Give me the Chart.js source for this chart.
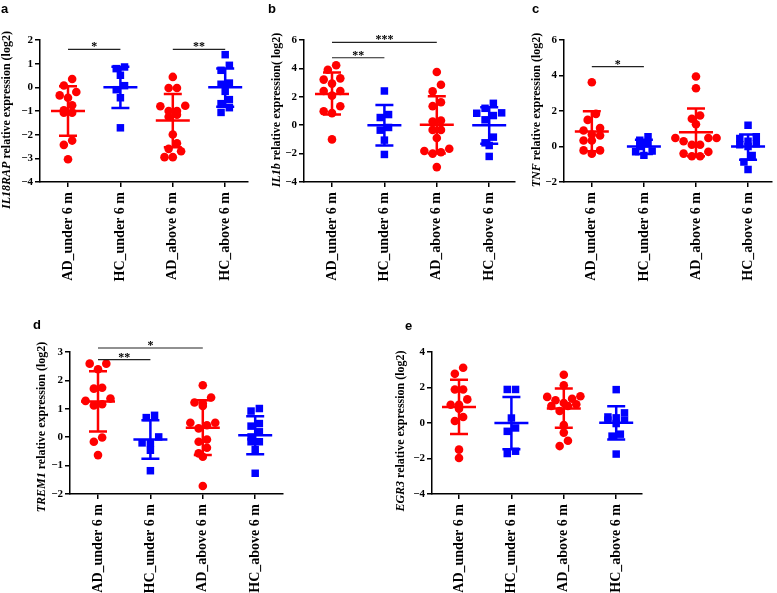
<!DOCTYPE html>
<html>
<head>
<meta charset="utf-8">
<script src="https://cdn.jsdelivr.net/npm/chart.js@4.4.1/dist/chart.umd.min.js"></script>
<style>
  html, body { margin: 0; padding: 0; background: #fff; }
  body { width: 777px; height: 593px; position: relative; overflow: hidden; }
</style>
</head>
<body>
<script>
// groups on the x axis, same order in every panel
const categories = ['AD_under 6 m', 'HC_under 6 m', 'AD_above 6 m', 'HC_above 6 m'];

// a - IL18RAP
const il18rapValues = [
  [0.35, 0.08, -0.2, -0.34, -0.44, -0.76, -0.97, -1.07, -1.07, -2.25, -2.43, -3.04],
  [0.86, 0.79, 0.51, 0.07, -0.1, -0.44, -1.71],
  [0.44, -0.03, -0.03, -0.78, -0.8, -1.0, -1.0, -1.16, -1.24, -1.99, -2.36, -2.6, -2.7, -2.95, -2.95],
  [1.38, 0.93, 0.72, 0.18, 0.13, -0.17, -0.52, -0.69, -0.86, -1.06]
];
const il18rapMean = [-1.0, 0.0, -1.4, 0.0];
const il18rapSdHigh = [0.05, 0.87, -0.28, 0.8];
const il18rapSdLow = [-2.05, -0.87, -2.53, -0.82];
const il18rapSig = [[0, 1, 1.6, '*'], [2, 3, 1.6, '**']];

// b - IL1b
const il1bValues = [
  [4.22, 3.91, 3.3, 3.21, 2.93, 2.41, 2.41, 2.08, 1.33, 0.98, 0.85, -1.0],
  [2.41, 0.75, 0.54, -0.16, -0.35, -1.05, -2.06],
  [3.75, 2.85, 2.38, 1.62, 1.34, 0.33, 0.26, -0.33, -0.33, -0.9, -1.66, -1.82, -1.9, -2.0, -2.95],
  [1.54, 1.19, 0.87, 0.84, 0.68, 0.38, -0.84, -1.24, -1.43, -2.2]
];
const il1bMean = [2.2, 0.0, 0.04, 0.0];
const il1bSdHigh = [3.72, 1.42, 2.04, 1.27];
const il1bSdLow = [0.75, -1.43, -1.99, -1.31];
const il1bSig = [[0, 1, 4.75, '**'], [0, 2, 5.83, '***']];

// c - TNF
const tnfValues = [
  [3.62, 1.84, 1.5, 1.04, 0.9, 0.68, 0.62, 0.34, 0.34, -0.22, -0.22, -0.41],
  [0.55, 0.35, 0.15, 0.0, -0.25, -0.3, -0.5],
  [3.94, 3.28, 1.75, 1.56, 1.25, 0.48, 0.48, 0.48, 0.3, 0.1, 0.1, -0.3, -0.4, -0.55, -0.55],
  [1.2, 0.55, 0.45, 0.3, 0.15, 0.1, 0.0, -0.5, -0.87, -1.3]
];
const tnfMean = [0.85, 0.0, 0.8, 0.0];
const tnfSdHigh = [1.98, 0.38, 2.14, 0.68];
const tnfSdLow = [-0.27, -0.42, -0.55, -0.74];
const tnfSig = [[0, 1, 4.5, '*']];

// d - TREM1
const trem1Values = [
  [2.59, 2.59, 2.39, 1.74, 1.71, 1.36, 1.28, 1.16, 1.12, -0.01, -0.16, -0.63],
  [0.77, 0.69, 0.01, -0.2, -0.22, -0.46, -1.18],
  [1.83, 1.4, 1.22, 1.19, 1.1, 0.51, 0.51, 0.42, 0.31, -0.08, -0.16, -0.37, -0.57, -0.69, -1.72],
  [1.01, 0.92, 0.48, 0.39, 0.19, 0.01, -0.16, -0.16, -0.43, -1.27]
];
const trem1Mean = [1.26, -0.08, 0.33, 0.07];
const trem1SdHigh = [2.32, 0.6, 1.3, 0.74];
const trem1SdLow = [0.2, -0.76, -0.63, -0.6];
const trem1Sig = [[0, 1, 2.73, '**'], [0, 2, 3.14, '*']];

// e - EGR3
const egr3Values = [
  [3.11, 2.77, 1.89, 1.89, 1.33, 1.03, 1.03, 0.8, 0.34, 0.11, -1.5, -1.97],
  [1.89, 1.89, 0.28, -0.28, -0.47, -1.59, -1.72],
  [2.72, 2.12, 1.51, 1.47, 1.37, 1.28, 1.13, 1.06, 0.96, 0.96, 0.68, -0.12, -0.54, -1.0, -1.3],
  [1.88, 0.57, 0.34, 0.29, 0.16, 0.16, -0.03, -0.63, -0.74, -1.75]
];
const egr3Mean = [0.9, 0.0, 0.81, 0.02];
const egr3SdHigh = [2.43, 1.46, 1.94, 0.94];
const egr3SdLow = [-0.62, -1.48, -0.27, -0.93];
const egr3Sig = [];

const RED = '#ff0000';
const BLUE = '#0000ff';
const SERIF = "'Liberation Serif', 'Times New Roman', serif";
const SANS = "'Liberation Sans', Arial, sans-serif";
const SPACING = 52.4;   // px between group centres
const PLOT_H = 142;
const Y_W = 40;
const PAD_TOP = 40;

const panels = [
  { letter: 'a', gene: 'IL18RAP', rest: ' relative expression (log2)', values: il18rapValues, mean: il18rapMean, hi: il18rapSdHigh, lo: il18rapSdLow, sig: il18rapSig,
    yMin: -4, yMax: 2, yStep: 1, axisX: 40, cat0: 68, end: 248, top: 0, xH: 110, titleDx: 33, titleMid: 120, letterPos: [1, 13] },
  { letter: 'b', gene: 'IL1b', rest: ' relative expression( log2)', values: il1bValues, mean: il1bMean, hi: il1bSdHigh, lo: il1bSdLow, sig: il1bSig,
    yMin: -4, yMax: 6, yStep: 2, axisX: 304, cat0: 332, end: 515, top: 0, xH: 110, titleDx: 27, titleMid: 110, letterPos: [268, 13] },
  { letter: 'c', gene: 'TNF', rest: ' relative expression (log2)', values: tnfValues, mean: tnfMean, hi: tnfSdHigh, lo: tnfSdLow, sig: tnfSig,
    yMin: -2, yMax: 6, yStep: 2, axisX: 564, cat0: 592, end: 773, top: 0, xH: 110, titleDx: 27, titleMid: 110, letterPos: [532, 13] },
  { letter: 'd', gene: 'TREM1', rest: ' relative expression (log2)', values: trem1Values, mean: trem1Mean, hi: trem1SdHigh, lo: trem1SdLow, sig: trem1Sig,
    yMin: -2, yMax: 3, yStep: 1, axisX: 70, cat0: 98, end: 283, top: 312, xH: 99, titleDx: 28, titleMid: 427, letterPos: [33, 329] },
  { letter: 'e', gene: 'EGR3', rest: ' relative expression (log2)', values: egr3Values, mean: egr3Mean, hi: egr3SdHigh, lo: egr3SdLow, sig: egr3Sig,
    yMin: -4, yMax: 4, yStep: 2, axisX: 432, cat0: 459, end: 642, top: 312, xH: 99, titleDx: 31, titleMid: 431, letterPos: [405, 330] }
];

// Prism-like scatter: points close in y are spread sideways
function swarm(vals, pxPerUnit) {
  const sorted = vals.slice().sort((a, b) => b - a);
  const groups = [];
  sorted.forEach(v => {
    const g = groups[groups.length - 1];
    if (g && (g[0] - v) * pxPerUnit < 7) g.push(v);
    else groups.push([v]);
  });
  const out = [];
  groups.forEach(g => {
    const slots = g.map((v, k) => (k - (g.length - 1) / 2) * 8.3);
    slots.sort((a, b) => Math.abs(b) - Math.abs(a) || b - a);
    g.forEach((v, k) => out.push({ dx: slots[k], y: v }));
  });
  return out;
}

function decorPlugin(p, left) {
  return {
    id: 'decor' + p.letter,
    afterDatasetsDraw(chart) {
      const ctx = chart.ctx;
      const xs = chart.scales.x, ys = chart.scales.y;
      const area = chart.chartArea;
      ctx.save();

      // mean +/- SD
      ctx.lineWidth = 2.5;
      p.mean.forEach((m, i) => {
        const cx = xs.getPixelForValue(i);
        const yH = ys.getPixelForValue(p.hi[i]);
        const yL = ys.getPixelForValue(p.lo[i]);
        const yM = ys.getPixelForValue(m);
        ctx.strokeStyle = i % 2 === 0 ? RED : BLUE;
        ctx.beginPath();
        ctx.moveTo(cx, yH); ctx.lineTo(cx, yL);
        ctx.moveTo(cx - 9, yH); ctx.lineTo(cx + 9, yH);
        ctx.moveTo(cx - 9, yL); ctx.lineTo(cx + 9, yL);
        ctx.moveTo(cx - 17, yM); ctx.lineTo(cx + 17, yM);
        ctx.stroke();
      });

      // significance bars
      ctx.strokeStyle = '#222';
      ctx.fillStyle = '#000';
      ctx.lineWidth = 1.2;
      ctx.font = 'bold 12px ' + SERIF;
      ctx.textAlign = 'center';
      ctx.textBaseline = 'alphabetic';
      p.sig.forEach(([from, to, y, label]) => {
        const x1 = xs.getPixelForValue(from), x2 = xs.getPixelForValue(to);
        const py = ys.getPixelForValue(y);
        ctx.beginPath();
        ctx.moveTo(x1, py); ctx.lineTo(x2, py);
        ctx.stroke();
        ctx.fillText(label, (x1 + x2) / 2, py + 1);
      });

      // y title with italic gene name
      ctx.translate(area.left - p.titleDx, p.titleMid - p.top);
      ctx.rotate(-Math.PI / 2);
      ctx.textBaseline = 'middle';
      ctx.textAlign = 'left';
      ctx.font = 'italic bold 12px ' + SERIF;
      const gw = ctx.measureText(p.gene).width;
      ctx.font = 'bold 12px ' + SERIF;
      const rw = ctx.measureText(p.rest).width;
      const start = -(gw + rw) / 2;
      ctx.font = 'italic bold 12px ' + SERIF;
      ctx.fillText(p.gene, start, 0);
      ctx.font = 'bold 12px ' + SERIF;
      ctx.fillText(p.rest, start + gw, 0);
      ctx.restore();

      // panel letter
      ctx.save();
      ctx.fillStyle = '#000';
      ctx.font = 'bold 13px ' + SANS;
      ctx.textAlign = 'left';
      ctx.textBaseline = 'alphabetic';
      ctx.fillText(p.letter, p.letterPos[0] - left, p.letterPos[1] - p.top);
      ctx.restore();
    }
  };
}

panels.forEach(p => {
  const left = p.axisX - Y_W;
  const plotW = p.end - p.axisX;
  const w = Math.min(Y_W + plotW + 6, 777 - left);
  const h = PAD_TOP + PLOT_H + p.xH;
  const canvas = document.createElement('canvas');
  canvas.width = w;
  canvas.height = h;
  canvas.style.cssText = `position:absolute;left:${left}px;top:${p.top}px;width:${w}px;height:${h}px`;
  document.body.appendChild(canvas);

  const pxPerUnit = PLOT_H / (p.yMax - p.yMin);
  const datasets = p.values.map((vals, i) => ({
    data: swarm(vals, pxPerUnit).map(pt => ({ x: i + pt.dx / SPACING, y: pt.y })),
    pointStyle: i % 2 === 0 ? 'circle' : 'rect',
    pointRadius: i % 2 === 0 ? 4.3 : 5.3,
    backgroundColor: i % 2 === 0 ? RED : BLUE,
    borderColor: i % 2 === 0 ? RED : BLUE,
    borderWidth: 0
  }));

  new Chart(canvas, {
    type: 'scatter',
    data: { datasets },
    plugins: [decorPlugin(p, left)],
    options: {
      responsive: false,
      animation: false,
      devicePixelRatio: 1,
      layout: { padding: { top: PAD_TOP, left: 0, bottom: 0, right: w - Y_W - plotW } },
      plugins: { legend: { display: false }, tooltip: { enabled: false } },
      scales: {
        x: {
          type: 'linear',
          min: -(p.cat0 - p.axisX) / SPACING,
          max: (p.end - p.cat0) / SPACING,
          afterBuildTicks: s => { s.ticks = categories.map((c, i) => ({ value: i })); },
          afterFit: s => { s.height = p.xH; },
          ticks: {
            callback: v => categories[v] || '',
            autoSkip: false,
            minRotation: 90,
            maxRotation: 90,
            padding: 5,
            color: '#000',
            font: { family: SERIF, size: 14, weight: 'bold' }
          },
          grid: { display: true, drawOnChartArea: false, drawTicks: true, tickLength: 5, color: '#000', lineWidth: 1.5 },
          border: { display: true, color: '#000', width: 1.5 }
        },
        y: {
          min: p.yMin,
          max: p.yMax,
          afterFit: s => { s.width = Y_W; },
          ticks: {
            stepSize: p.yStep,
            padding: 2,
            color: '#000',
            font: { family: SERIF, size: 11, weight: 'bold' },
            callback: v => v < 0 ? '\u2212' + Math.abs(v) : String(v)
          },
          grid: { display: true, drawOnChartArea: false, drawTicks: true, tickLength: 5, color: '#000', lineWidth: 1.5 },
          border: { display: true, color: '#000', width: 1.5 }
        }
      }
    }
  });
});
</script>
</body>
</html>
